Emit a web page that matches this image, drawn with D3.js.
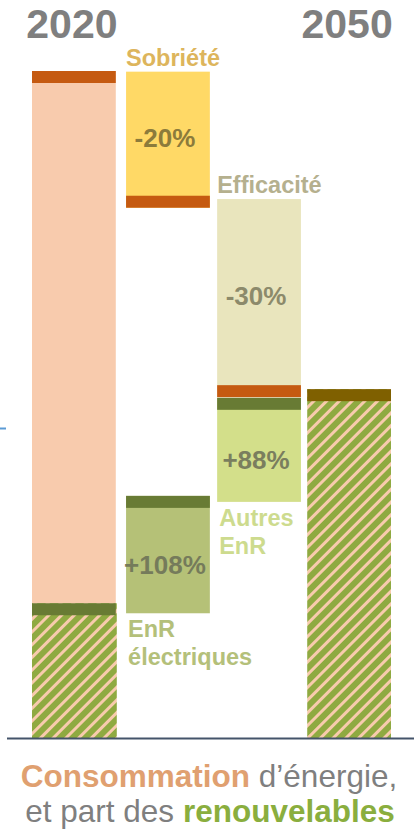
<!DOCTYPE html>
<html>

<head>
    <meta charset="UTF-8">
    <title>Consommation d'énergie</title>
    <style>
        body {
            margin: 0;
            background: white;
        }

        svg {
            display: block;
            font-family: "Liberation Sans", Arial, sans-serif;
        }
    </style>
</head>

<body>
    <svg></svg>
    <script src="https://d3js.org/d3.v7.min.js"></script>
    <script>

        let width = 414, height = 833

        // columns of the waterfall
        const columns = ["2020", "Sobriété", "Efficacité", "2050"];
        const years = ["2020", "2050"];

        // segments (values in % of 2020 consumption)
        const segNames = ["conso2020", "enr2020", "sobriete", "efficacite", "autresEnR", "enrElec", "total2050"];
        const segColumn = ["2020", "2020", "Sobriété", "Efficacité", "Efficacité", "Sobriété", "2050"];
        const segTop = [100, 20.2, 99.9, 80.8, 51.0, 36.3, 52.3];
        const segBottom = [20.2, 0, 79.5, 51.1, 35.4, 18.7, 0];
        const segCap = ["top", "top", "bottom", "bottom", "top", "top", "top"];

        // percentage labels
        const pctLabels = ["", "", "-20%", "-30%", "+88%", "+108%", ""];
        // category names
        const catLabels = [[], [], ["Sobriété"], ["Efficacité"], ["Autres", "EnR"], ["EnR", "électriques"], []];

        let fills = {
            conso2020: "#F8CBAD", enr2020: "url(#hatch)", sobriete: "#FFD966", efficacite: "#E9E5BD",
            autresEnR: "#D3DF8A", enrElec: "#B5C177", total2050: "url(#hatch)"
        }
        let caps = {
            conso2020: "#C55A11", enr2020: "#687B34", sobriete: "#C55A11", efficacite: "#C55A11",
            autresEnR: "#687B34", enrElec: "#687B34", total2050: "#7F6000"
        }
        let pctColors = { sobriete: "#8C7B3B", efficacite: "#8C8A6B", autresEnR: "#7A7E5E", enrElec: "#757B5B" }
        let catColors = { sobriete: "#DDB55C", efficacite: "#B5B08E", autresEnR: "#CDDB8E", enrElec: "#B4C07A" }

        let segs = segNames.map((n, i) => ({
            name: n, col: segColumn[i], top: segTop[i], bottom: segBottom[i],
            cap: segCap[i], pct: pctLabels[i], cat: catLabels[i]
        }));

        let svg = d3.select("svg")
            .attr("width", width)
            .attr("height", height)
            .attr("viewBox", "0 0 " + width + " " + height)

        let x = d3.scaleBand()
            .domain(columns)
            .range([32, 392])
            .paddingInner(0.09);

        // small nudges so the columns sit like the original
        let shift = { "2020": 0, "Sobriété": 2, "Efficacité": 1, "2050": -1 }
        let bx = c => x(c) + shift[c];

        let y = d3.scaleLinear()
            .domain([0, 100])
            .range([738, 71]);

        let capH = 12;

        // hatch pattern
        let pattern = svg.append("defs").append("pattern")
            .attr("id", "hatch")
            .attr("patternUnits", "userSpaceOnUse")
            .attr("width", 9)
            .attr("height", 9)
            .attr("patternTransform", "rotate(45)");
        pattern.append("rect")
            .attr("width", 9).attr("height", 9)
            .attr("fill", "#8FAA41");
        pattern.append("rect")
            .attr("width", 3).attr("height", 9)
            .attr("fill", "#F8CBAD");

        // bars
        svg.append("g")
            .selectAll("rect")
            .data(segs)
            .enter()
            .append("rect")
            .attr("x", d => bx(d.col))
            .attr("width", d => x.bandwidth() + (d.name == "enr2020" ? 1 : 0))
            .attr("y", d => y(d.top))
            .attr("height", d => y(d.bottom) - y(d.top))
            .attr("fill", d => fills[d.name]);

        // caps
        svg.append("g")
            .selectAll("rect")
            .data(segs)
            .enter()
            .append("rect")
            .attr("x", d => bx(d.col))
            .attr("width", x.bandwidth())
            .attr("y", d => d.cap == "top" ? y(d.top) : y(d.bottom) - capH)
            .attr("height", capH)
            .attr("fill", d => caps[d.name]);

        // percent labels
        svg.append("g")
            .selectAll("text")
            .data(segs.filter(d => d.pct))
            .enter()
            .append("text")
            .attr("x", d => bx(d.col) + x.bandwidth() / 2 - 3)
            .attr("y", d => {
                let t = y(d.top) + (d.cap == "top" ? capH : 0);
                let b = y(d.bottom) - (d.cap == "bottom" ? capH : 0);
                return (t + b) / 2 + 13;
            })
            .attr("text-anchor", "middle")
            .attr("font-size", "26px")
            .attr("font-weight", "bold")
            .attr("fill", d => pctColors[d.name])
            .text(d => d.pct);

        // category labels
        segs.filter(d => d.cat.length).forEach(d => {
            if (d.name == "sobriete" || d.name == "efficacite") {
                svg.append("text")
                    .attr("x", bx(d.col))
                    .attr("y", y(d.top) - 6)
                    .attr("font-size", "23.5px")
                    .attr("font-weight", "bold")
                    .attr("fill", catColors[d.name])
                    .text(d.cat[0]);
            } else {
                d.cat.forEach((c, j) => {
                    svg.append("text")
                        .attr("x", bx(d.col) + 2)
                        .attr("y", y(d.bottom) + 24 + j * 28)
                        .attr("font-size", "23.5px")
                        .attr("font-weight", "bold")
                        .attr("fill", catColors[d.name])
                        .text(c);
                });
            }
        });

        // years
        svg.append("g")
            .selectAll("text")
            .data(years)
            .enter()
            .append("text")
            .attr("x", d => bx(d) + x.bandwidth() / 2 - 2)
            .attr("y", 38)
            .attr("text-anchor", "middle")
            .attr("font-size", "41px")
            .attr("font-weight", "bold")
            .attr("fill", "#7F7F7F")
            .text(d => d);

        // baseline
        svg.append("line")
            .attr("x1", 7).attr("x2", width)
            .attr("y1", y(0) + 0.5).attr("y2", y(0) + 0.5)
            .attr("stroke", "#44546A")
            .attr("stroke-width", 2);

        // little blue tick at the left
        svg.append("line")
            .attr("x1", 0).attr("x2", 6)
            .attr("y1", 428.5).attr("y2", 428.5)
            .attr("stroke", "#5B9BD5")
            .attr("stroke-width", 2);

        // title
        let t1 = svg.append("text")
            .attr("x", width / 2 + 2)
            .attr("y", 787)
            .attr("text-anchor", "middle")
            .attr("font-size", "31.5px")
            .attr("fill", "#7F7F7F");
        t1.append("tspan").attr("font-weight", "bold").attr("fill", "#E0A070").text("Consommation");
        t1.append("tspan").text(" d’énergie,");

        let t2 = svg.append("text")
            .attr("x", width / 2 + 3)
            .attr("y", 822)
            .attr("text-anchor", "middle")
            .attr("font-size", "31.5px")
            .attr("fill", "#7F7F7F");
        t2.append("tspan").text("et part des ");
        t2.append("tspan").attr("font-weight", "bold").attr("fill", "#8AAE3E").text("renouvelables");

    </script>

</body>

</html>
